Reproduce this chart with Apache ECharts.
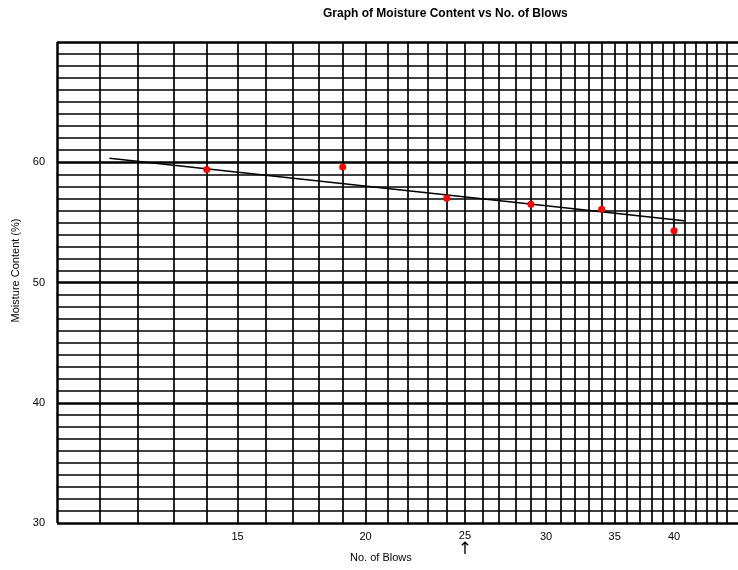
<!DOCTYPE html>
<html>
<head>
<meta charset="utf-8">
<title>Moisture Content vs No. of Blows</title>
<script src="https://cdn.jsdelivr.net/npm/echarts@6/dist/echarts.min.js"></script>
<style>
    html, body { margin: 0; padding: 0; background: #fff; }
    #chart { width: 738px; height: 570px; }
</style>
</head>
<body>
<div id="chart"></div>
<script>
    // test results
    var blows = [14, 19, 24, 29, 34, 40];
    var moisture = [59.4, 59.6, 57.0, 56.5, 56.1, 54.3];

    // fitted line end points
    var trendBlows = [11.25, 40.9];
    var trendMoisture = [60.33, 55.14];

    // graph paper: one vertical line per blow count
    var gridBlows = [10, 11, 12, 13, 14, 15, 16, 17, 18, 19, 20, 21, 22, 23, 24, 25, 26, 27, 28,
        29, 30, 31, 32, 33, 34, 35, 36, 37, 38, 39, 40, 41, 42, 43, 44, 45];
    var xTickLabels = [15, 20, 25, 30, 35, 40];
    var yTickLabels = [30, 40, 50, 60];

    var font = 'Liberation Sans, Arial, sans-serif';

    var points = [];
    for (let i = 0; i < blows.length; i++) {
        points.push([blows[i], moisture[i]]);
    }
    var trend = [];
    for (let i = 0; i < trendBlows.length; i++) {
        trend.push([trendBlows[i], trendMoisture[i]]);
    }

    var vLines = gridBlows.map(function (v) {
        var labelled = xTickLabels.indexOf(v) >= 0;
        return {
            xAxis: v,
            lineStyle: { color: '#000', width: v === 10 ? 2.5 : 1.7, type: 'solid' },
            label: {
                show: labelled,
                position: 'start',
                distance: 7,
                color: '#000',
                fontSize: 11,
                fontFamily: font,
                lineHeight: 13,
                formatter: v === 25 ? '{v|25}\n{a|↑}' : String(v),
                rich: {
                    v: { fontSize: 11, fontFamily: font, color: '#000', lineHeight: 12 },
                    a: { fontSize: 17, fontFamily: 'DejaVu Sans, sans-serif', color: '#000', lineHeight: 16 }
                }
            }
        };
    });

    var chart = echarts.init(document.getElementById('chart'));
    var option = {
        backgroundColor: '#fff',
        animation: false,
        title: {
            text: 'Graph of Moisture Content vs No. of Blows',
            left: 318,
            top: 3,
            textStyle: { fontSize: 12, fontWeight: 'bold', fontFamily: font, color: '#000' }
        },
        grid: {
            left: 57,
            top: 42,
            right: -344,
            bottom: 47,
            outerBoundsMode: 'none'
        },
        xAxis: {
            type: 'log',
            logBase: 10,
            min: 10,
            max: 100,
            axisLine: { show: false },
            axisTick: { show: false },
            axisLabel: { show: false },
            splitLine: { show: false }
        },
        yAxis: {
            type: 'value',
            min: 30,
            max: 70,
            interval: 10,
            name: 'Moisture Content (%)',
            nameLocation: 'middle',
            nameGap: 31,
            nameTextStyle: { fontSize: 11, fontFamily: font, color: '#000', padding: [0, 0, 0, 24] },
            axisLine: { show: false },
            axisTick: { show: false },
            axisLabel: {
                color: '#000',
                fontSize: 11,
                fontFamily: font,
                margin: 12,
                formatter: function (val) {
                    return yTickLabels.indexOf(val) >= 0 ? String(val) : '';
                }
            },
            splitLine: { show: true, lineStyle: { color: '#000', width: 2.6 } },
            minorTick: { show: false, splitNumber: 10 },
            minorSplitLine: { show: true, lineStyle: { color: '#000', width: 1.7 } }
        },
        graphic: [{
            type: 'text',
            left: 350,
            top: 552,
            style: { text: 'No. of Blows', fontSize: 11, fontFamily: font, fill: '#000' }
        }],
        series: [
            {
                name: 'paper',
                type: 'line',
                data: [],
                z: 1,
                silent: true,
                markLine: {
                    z: 1,
                    silent: true,
                    symbol: ['none', 'none'],
                    animation: false,
                    data: vLines
                }
            },
            {
                name: 'trend',
                type: 'line',
                data: trend,
                z: 3,
                symbol: 'none',
                lineStyle: { color: '#000', width: 1.5 }
            },
            {
                name: 'tests',
                type: 'scatter',
                data: points,
                z: 6,
                symbolSize: 7,
                itemStyle: { color: '#ff0000', opacity: 1 }
            }
        ]
    };
    chart.setOption(option);
</script>
</body>
</html>
